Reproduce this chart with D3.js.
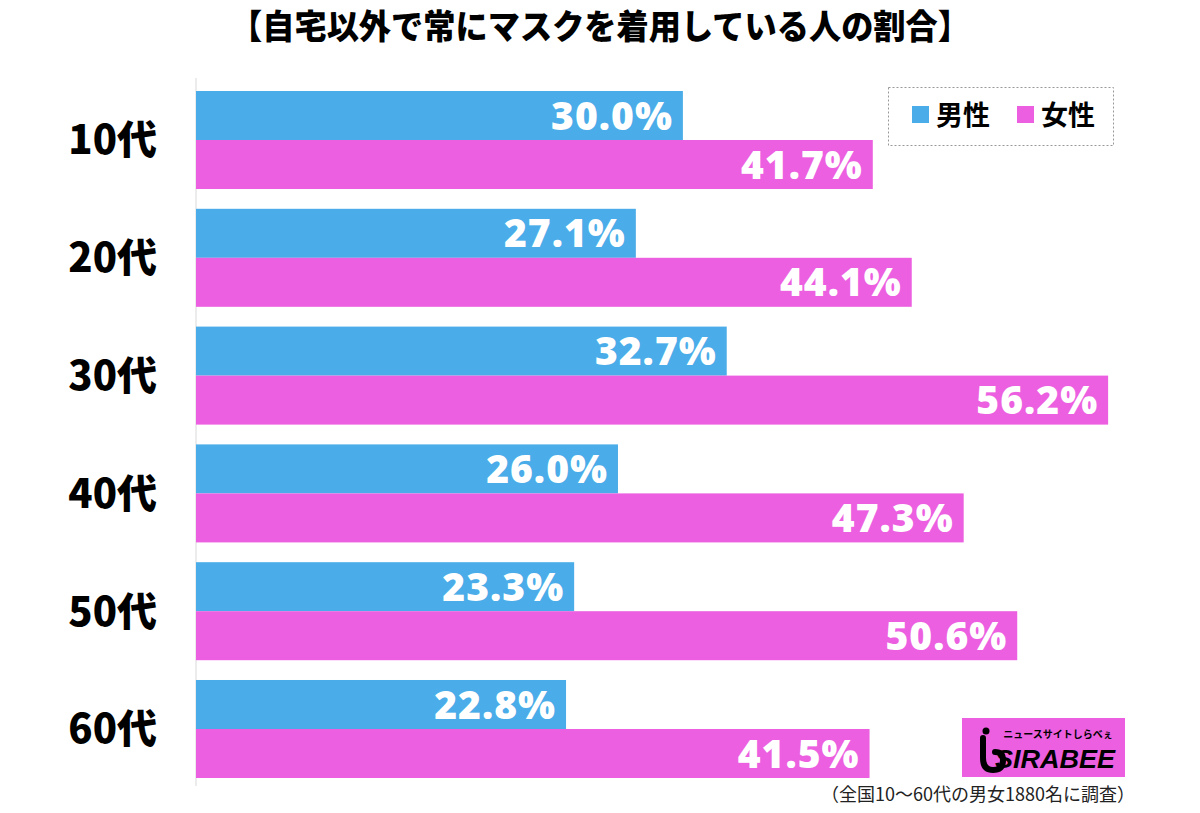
<!DOCTYPE html>
<html><head><meta charset="utf-8">
<script src="https://cdn.jsdelivr.net/npm/d3@7"></script>
<style>body{margin:0;background:#fff}svg{display:block}</style>
</head><body>
<script>
const categories = ["10代","20代","30代","40代","50代","60代"];
const seriesNames = ["男性","女性"];
const male = [30.0, 27.1, 32.7, 26.0, 23.3, 22.8];
const female = [41.7, 44.1, 56.2, 47.3, 50.6, 41.5];
const colors = ["#4aace8", "#ec5fe0"];
const title = "【自宅以外で常にマスクを着用している人の割合】";
const note = "（全国10～60代の男女1880名に調査）";

const W = 1200, H = 813;
const svg = d3.select("body").append("svg").attr("width", W).attr("height", H);
const font = "'Noto Sans CJK JP', 'Noto Sans', sans-serif";

const x = d3.scaleLinear().domain([0, 60]).range([196, 196 + 60 * 16.23]);
const y = d3.scaleBand().domain(categories).range([91, 778]).paddingInner(0.168).paddingOuter(0);
const sub = d3.scaleBand().domain(seriesNames).range([0, y.bandwidth()]);

// axis line
svg.append("line").attr("x1", 196).attr("x2", 196).attr("y1", 78).attr("y2", 786)
  .attr("stroke", "#e6e6e6").attr("stroke-width", 1.5);

const data = [];
categories.forEach((c, i) => {
  data.push({c, s: seriesNames[0], v: male[i], col: colors[0]});
  data.push({c, s: seriesNames[1], v: female[i], col: colors[1]});
});

svg.selectAll("rect.bar").data(data).enter().append("rect")
  .attr("class", "bar")
  .attr("x", x(0)).attr("y", d => y(d.c) + sub(d.s))
  .attr("width", d => x(d.v) - x(0)).attr("height", sub.bandwidth())
  .attr("fill", d => d.col);

svg.selectAll("text.val").data(data).enter().append("text")
  .attr("class", "val")
  .attr("x", d => x(d.v) - 10).attr("y", d => y(d.c) + sub(d.s) + sub.bandwidth() / 2)
  .attr("dy", "0.36em").attr("text-anchor", "end")
  .attr("font-family", "'Noto Sans', 'DejaVu Sans', sans-serif").attr("font-weight", 900)
  .attr("font-size", 39).attr("letter-spacing", 1).attr("fill", "#fff")
  .text(d => d.v.toFixed(1) + "%");

// category labels
svg.selectAll("text.cat").data(categories).enter().append("text")
  .attr("class", "cat")
  .attr("x", 157).attr("y", d => y(d) + y.bandwidth() / 2)
  .attr("dy", "0.36em").attr("text-anchor", "end")
  .attr("font-family", font).attr("font-weight", 900).attr("font-size", 40)
  .attr("fill", "#000").text(d => d);

// title
svg.append("text").attr("x", 600).attr("y", 39).attr("text-anchor", "middle")
  .attr("font-family", font).attr("font-weight", 900).attr("font-size", 34)
  .attr("textLength", 740).attr("lengthAdjust", "spacingAndGlyphs")
  .attr("fill", "#000").text(title);

// legend
const lg = svg.append("g");
lg.append("rect").attr("x", 888.5).attr("y", 87.5).attr("width", 225).attr("height", 58)
  .attr("fill", "#fff").attr("stroke", "#999").attr("stroke-dasharray", "2,2");
const legX = [912, 1017];
seriesNames.forEach((s, i) => {
  lg.append("rect").attr("x", legX[i]).attr("y", 106).attr("width", 17).attr("height", 17).attr("fill", colors[i]);
  lg.append("text").attr("x", legX[i] + 24).attr("y", 115).attr("dy", "0.36em")
    .attr("font-family", font).attr("font-weight", 700).attr("font-size", 27).attr("fill", "#000").text(s);
});

// logo
const logo = svg.append("g");
logo.append("rect").attr("x", 962).attr("y", 718).attr("width", 163).attr("height", 59).attr("fill", "#ec5fe0");
logo.append("text").attr("x", 1058).attr("y", 738).attr("text-anchor", "middle")
  .attr("font-family", font).attr("font-weight", 700).attr("font-size", 10).attr("fill", "#000").text("ニュースサイトしらべぇ");
logo.append("text").attr("x", 1115).attr("y", 768).attr("text-anchor", "end")
  .attr("font-family", "'Liberation Sans', sans-serif").attr("font-weight", 700).attr("font-style", "italic")
  .attr("font-size", 26).attr("textLength", 120).attr("lengthAdjust", "spacingAndGlyphs")
  .attr("fill", "#000").text("SIRABEE");
logo.append("circle").attr("cx", 986).attr("cy", 731).attr("r", 3.5).attr("fill", "#000");
logo.append("path").attr("d", "M983,738 L983,758 Q983,770 993,770 Q1003,770 1003,760 Q1003,752 995,752")
  .attr("fill", "none").attr("stroke", "#000").attr("stroke-width", 6).attr("stroke-linecap", "round");

// footnote
svg.append("text").attr("x", 1135).attr("y", 801).attr("text-anchor", "end")
  .attr("font-family", font).attr("font-size", 18).attr("fill", "#222").text(note);
</script>
</body></html>
